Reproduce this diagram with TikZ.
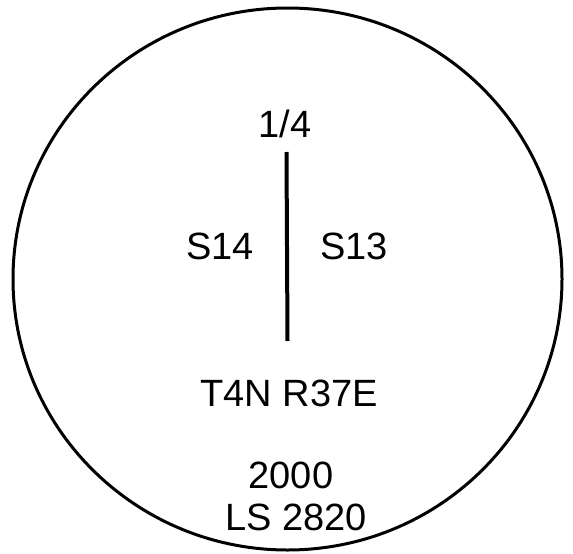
\documentclass[tikz,border=0pt]{standalone}
\usepackage{fontspec}
\setmainfont{Liberation Sans}
\usetikzlibrary{positioning}
\tikzset{
    capdiagram/.style={x=1pt, y=-1pt, line width=3pt},
    label/.style={anchor=base, inner sep=0pt, font=\fontsize{38}{40}\selectfont},
}

\begin{document}
\begin{tikzpicture}[capdiagram]
        \useasboundingbox (0,0) rectangle (573,554);
        \draw (287.5,279) ellipse [x radius=274.5, y radius=271];

        \coordinate (top)    at (286.5,152);
        \coordinate (bottom) at (287.5,341);
        \draw[line width=4pt] (top) -- (bottom);

        \node[label] (quarter) at (285,137) {1/4};
        \node[label] (s14)     at (220,259) {S14};
        \node[label] (s13)     at (354,259) {S13};
        \node[label] (twprge)  at (289,406) {T4N R37E};
        \node[label] (year)    at (291,488) {2000};
        \node[label] (ls)      at (296,530) {LS 2820};
    \end{tikzpicture}
\end{document}
